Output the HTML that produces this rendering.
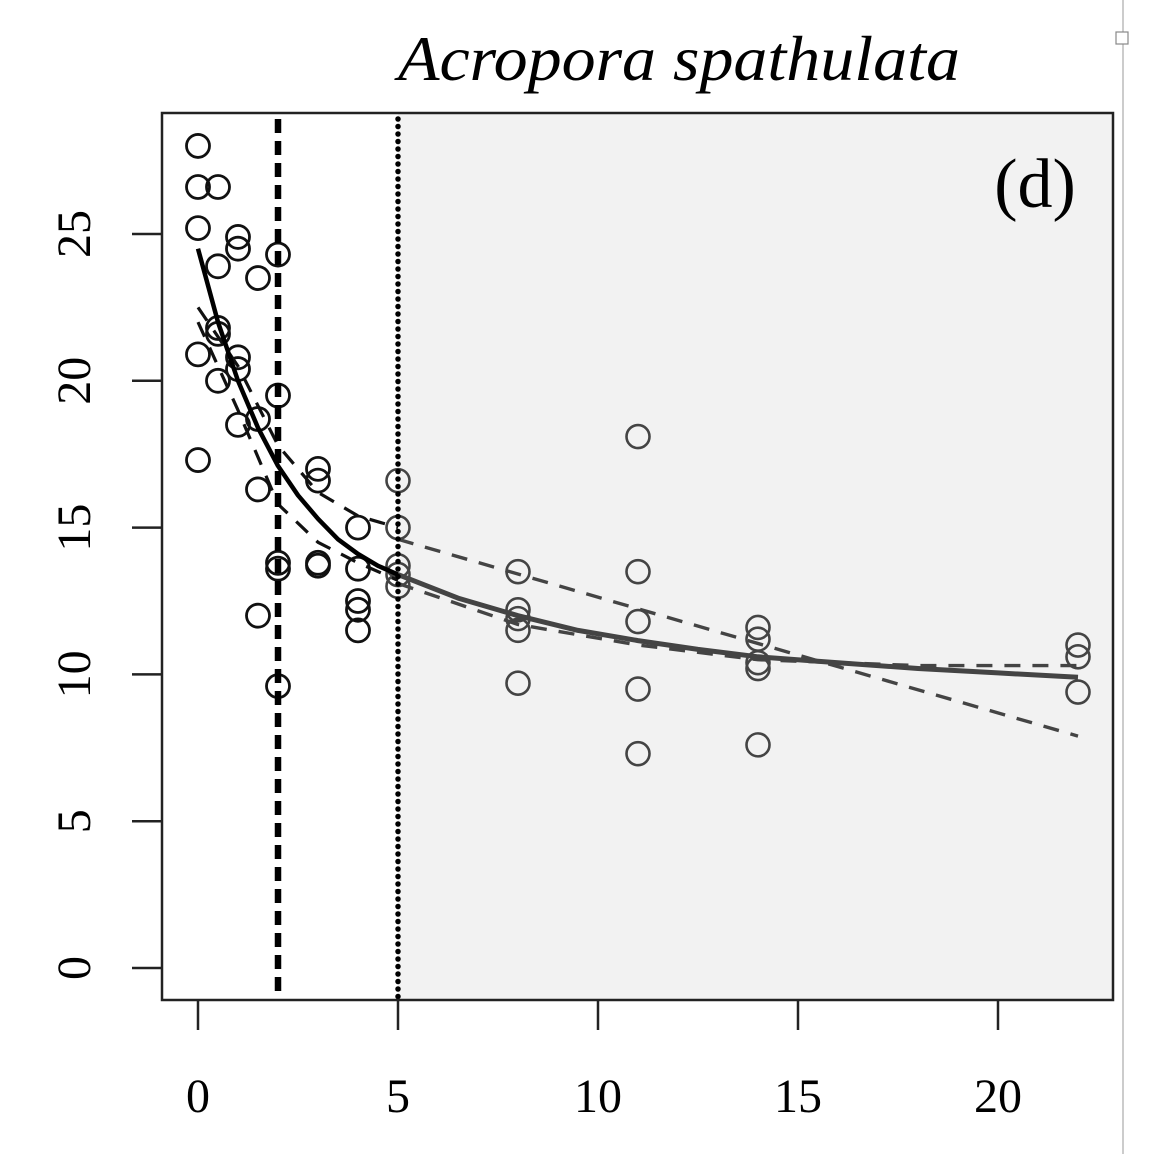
<!DOCTYPE html>
<html><head><meta charset="utf-8"><style>
html,body{margin:0;padding:0;background:#fff;}
svg{display:block;font-family:"Liberation Serif",serif;}
</style></head><body>
<svg id="chart" width="1164" height="1154" viewBox="0 0 1164 1154" xmlns="http://www.w3.org/2000/svg">
<rect x="0" y="0" width="1164" height="1154" fill="#fff"/>
<line x1="1123" y1="0" x2="1123" y2="1154" stroke="#bbb" stroke-width="1.5"/>
<rect x="1116" y="32" width="12" height="12" fill="#fff" stroke="#888" stroke-width="1.2"/>
<text x="679" y="80" font-size="64" font-style="italic" text-anchor="middle" textLength="562" lengthAdjust="spacingAndGlyphs">Acropora spathulata</text>
<g id="plot"></g>
</svg>
<script>
const xsLeft=[0,0,0,0,0,0.5,0.5,0.5,0.5,0.5,1,1,1,1,1,1.5,1.5,1.5,1.5,2,2,2,2,2,3,3,3,3,4,4,4,4,4];
const ysLeft=[28.0,26.6,25.2,20.9,17.3,26.6,23.9,21.8,21.6,20.0,24.9,24.5,20.8,20.4,18.5,23.5,18.7,16.3,12.0,24.3,19.5,13.8,13.6,9.6,17.0,16.6,13.8,13.7,15.0,13.6,12.5,12.2,11.5];
const xsRight=[5,5,5,5,5,8,8,8,8,8,11,11,11,11,11,14,14,14,14,14,22,22,22];
const ysRight=[16.6,15.0,13.7,13.4,13.0,13.5,12.2,11.9,11.5,9.7,18.1,13.5,11.8,9.5,7.3,11.6,11.2,10.4,10.2,7.6,11.0,10.6,9.4];
const fitXLeft=[0,0.5,1,1.5,2,2.5,3,3.5,4,4.5,5];
const fitYLeft=[24.5,22.0,20.0,18.4,17.1,16.1,15.3,14.6,14.1,13.7,13.4];
const bandUpXLeft=[0,1,2,3,4,5];
const bandUpYLeft=[22.5,20.5,17.8,16.2,15.4,15.0];
const bandLoXLeft=[0,1,2,3,4,5];
const bandLoYLeft=[22.0,19.0,15.8,14.5,13.8,13.2];
const fitXRight=[5,6.5,8,9.5,11,12.5,14,16,18,20,22];
const fitYRight=[13.4,12.6,12.0,11.5,11.15,10.85,10.6,10.4,10.2,10.05,9.9];
const bandUpXRight=[5,22];
const bandUpYRight=[14.6,7.9];
const bandLoXRight=[5,8,11,14,18,22];
const bandLoYRight=[13.1,11.7,11.0,10.5,10.3,10.3];
const xTicks=[0,5,10,15,20];
const yTicks=[0,5,10,15,20,25];
const splitA=2, splitB=5;

const X=v=>198+v*40;
const Y=v=>968-v*29.36;
const NS="http://www.w3.org/2000/svg";
const g=document.getElementById('plot');
function mk(t,a){const e=document.createElementNS(NS,t);for(const k in a)e.setAttribute(k,a[k]);g.appendChild(e);return e;}
const L=162,R=1113,T=113,B=1000;
let e=mk('rect',{x:X(splitB),y:T,width:R-X(splitB),height:B-T,fill:'#f2f2f2'});


function path(xs,ys,attrs,name){const d=xs.map((x,i)=>(i?'L':'M')+X(x).toFixed(1)+','+Y(ys[i]).toFixed(1)).join(' ');const p=mk('path',Object.assign({d:d,fill:'none','stroke-linejoin':'round'},attrs));}
xsLeft.forEach((x,i)=>{const c=mk('circle',{cx:X(x),cy:Y(ysLeft[i]),r:11.5,fill:'none',stroke:'#111','stroke-width':2.8});

});
xsRight.forEach((x,i)=>{const c=mk('circle',{cx:X(x),cy:Y(ysRight[i]),r:11.5,fill:'none',stroke:'#444','stroke-width':2.6});

});
path(bandUpXLeft,bandUpYLeft,{stroke:'#111','stroke-width':3.2,'stroke-dasharray':'16 12'},'ci-upper-left');
path(bandLoXLeft,bandLoYLeft,{stroke:'#111','stroke-width':3.2,'stroke-dasharray':'16 12'},'ci-lower-left');
path(bandUpXRight,bandUpYRight,{stroke:'#444','stroke-width':3.4,'stroke-dasharray':'16 12'},'ci-upper-right');
path(bandLoXRight,bandLoYRight,{stroke:'#444','stroke-width':3.4,'stroke-dasharray':'16 12'},'ci-lower-right');
path(fitXLeft,fitYLeft,{stroke:'#000','stroke-width':4.5},'fit-line-left');
path(fitXRight,fitYRight,{stroke:'#444','stroke-width':5},'fit-line-right');
e=mk('line',{x1:X(splitA),y1:T+6,x2:X(splitA),y2:B,stroke:'#000','stroke-width':6.5,'stroke-dasharray':'14 8'});


e=mk('line',{x1:X(splitB),y1:T+6,x2:X(splitB),y2:B,stroke:'#000','stroke-width':5.5,'stroke-dasharray':'0 7.5','stroke-linecap':'round'});


e=mk('rect',{x:L,y:T,width:R-L,height:B-T,fill:'none',stroke:'#222','stroke-width':2.5});


xTicks.forEach(t=>{
 const l=mk('line',{x1:X(t),y1:B,x2:X(t),y2:B+30,stroke:'#222','stroke-width':2.5});
 
 
 const tx=mk('text',{x:X(t),y:1112,'font-size':48,'text-anchor':'middle'});tx.textContent=t;
 
 
});
yTicks.forEach(t=>{
 const l=mk('line',{x1:L-30,y1:Y(t),x2:L,y2:Y(t),stroke:'#222','stroke-width':2.5});
 
 
 const tx=mk('text',{x:0,y:0,'font-size':48,'text-anchor':'middle',transform:`translate(90,${Y(t)}) rotate(-90)`});tx.textContent=t;
 
 
});
e=mk('text',{x:1035,y:207,'font-size':70,'text-anchor':'middle'});e.textContent='(d)';


</script>
</body></html>
